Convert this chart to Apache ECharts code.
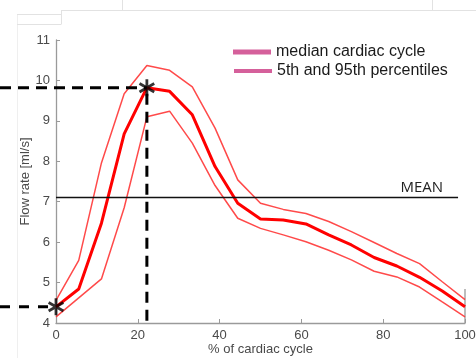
<!DOCTYPE html>
<html>
<head>
<meta charset="utf-8">
<script src="https://cdn.jsdelivr.net/npm/echarts@6/dist/echarts.min.js"></script>
<style>
html,body{margin:0;padding:0;background:#fff;}
#chart{width:476px;height:358px;}
</style>
</head>
<body>
<div id="chart"></div>
<script>
// % of cardiac cycle (sample positions)
var cyclePct = [0, 5.56, 11.11, 16.67, 22.22, 27.78, 33.33, 38.89, 44.44, 50, 55.56, 61.11, 66.67, 72.22, 77.78, 83.33, 88.89, 94.44, 100];
// flow rate [ml/s]
var medianFlow = [4.40, 4.84, 6.47, 8.68, 9.82, 9.73, 9.15, 7.87, 6.96, 6.57, 6.55, 6.45, 6.18, 5.93, 5.62, 5.41, 5.13, 4.79, 4.40];
var p95Flow = [4.56, 5.55, 7.96, 9.67, 10.37, 10.25, 9.84, 8.82, 7.54, 6.96, 6.81, 6.71, 6.51, 6.26, 5.99, 5.72, 5.47, 5.02, 4.58];
var p5Flow = [4.15, 4.62, 5.09, 6.85, 9.10, 9.24, 8.45, 7.40, 6.59, 6.34, 6.18, 6.01, 5.80, 5.56, 5.28, 5.14, 4.89, 4.52, 4.15];
var meanFlow = 7.12;
var meanLineEnd = 98.3;
var markedIdx = [0, 4];
var xTicks = [0, 20, 40, 60, 80, 100];
var yTicks = [4, 5, 6, 7, 8, 9, 10, 11];
var legendNames = ['median cardiac cycle', '5th and 95th percentiles'];

function pairs(ys) { return cyclePct.map(function (x, i) { return [x, ys[i]]; }); }

var chart = echarts.init(document.getElementById('chart'), null, {renderer: 'canvas'});
var axisGray = '#9a9a9a';
var labelGray = '#4a4a4a';
var font = 'Liberation Sans, Arial, sans-serif';
var legendPink = '#d5609b';
var asterisk = 'path://M10,0L10,20M1.34,5L18.66,15M1.34,15L18.66,5';

var option = {
  animation: false,
  backgroundColor: '#fff',
  grid: {left: 56, right: 11, top: 40, bottom: 35, containLabel: false, outerBoundsMode: 'none'},
  xAxis: {
    type: 'value', min: xTicks[0], max: xTicks[xTicks.length - 1], interval: 20,
    name: '% of cardiac cycle', nameLocation: 'middle', nameGap: 20, nameMoveOverlap: false,
    nameTextStyle: {color: labelGray, fontSize: 13, fontFamily: font},
    axisLine: {show: true, lineStyle: {color: axisGray, width: 1.3}},
    axisTick: {show: true, inside: true, length: 4, lineStyle: {color: axisGray}},
    axisLabel: {color: labelGray, fontSize: 13, fontFamily: font, margin: 6},
    splitLine: {show: false}
  },
  yAxis: {
    type: 'value', min: yTicks[0], max: yTicks[yTicks.length - 1], interval: 1,
    name: 'Flow rate [ml/s]', nameLocation: 'middle', nameGap: 24, nameMoveOverlap: false,
    nameTextStyle: {color: labelGray, fontSize: 13, fontFamily: font},
    axisLine: {show: true, lineStyle: {color: axisGray, width: 1.3}},
    axisTick: {show: true, inside: true, length: 4, lineStyle: {color: axisGray}},
    axisLabel: {color: labelGray, fontSize: 13, fontFamily: font, margin: 6},
    splitLine: {show: false}
  },
  legend: [
    {
      data: [{name: legendNames[0], icon: 'rect', itemStyle: {color: legendPink}}],
      left: 233, top: 44, itemWidth: 38, itemHeight: 5, padding: 0,
      textStyle: {color: '#1a1a1a', fontSize: 16, fontFamily: font}
    },
    {
      data: [{name: legendNames[1], icon: 'rect', itemStyle: {color: legendPink}}],
      left: 234, top: 63, itemWidth: 38, itemHeight: 4, padding: 0,
      textStyle: {color: '#1a1a1a', fontSize: 16, fontFamily: font}
    }
  ],
  series: [
    {
      name: legendNames[1], type: 'line', data: pairs(p95Flow), showSymbol: false,
      lineStyle: {color: '#ff2a2a', width: 1.5, opacity: 0.85}, itemStyle: {color: '#ff2a2a'}, z: 3
    },
    {
      name: legendNames[1], type: 'line', data: pairs(p5Flow), showSymbol: false,
      lineStyle: {color: '#ff2a2a', width: 1.5, opacity: 0.85}, itemStyle: {color: '#ff2a2a'}, z: 3
    },
    {
      name: legendNames[0], type: 'line', data: pairs(medianFlow), showSymbol: false,
      lineStyle: {color: '#ff0000', width: 3}, itemStyle: {color: '#ff0000'}, z: 4,
      markLine: {
        silent: true, symbol: 'none',
        lineStyle: {color: '#111', width: 1.4, type: 'solid'},
        label: {show: true, position: 'insideEndTop', formatter: 'MEAN', color: '#222',
                fontSize: 15, fontFamily: 'Open Sans, sans-serif', distance: [15, 2]},
        data: [[{coord: [cyclePct[0], meanFlow]}, {coord: [meanLineEnd, meanFlow]}]]
      }
    },
    {
      name: 'marked', type: 'scatter', z: 10,
      data: markedIdx.map(function (i) { return [cyclePct[i], medianFlow[i]]; }),
      symbol: asterisk, symbolSize: 17, symbolKeepAspect: true,
      itemStyle: {color: 'rgba(0,0,0,0)', borderColor: '#000', borderWidth: 2.8}
    }
  ]
};
chart.setOption(option);

// dashed guide lines from the marked points (positions via the chart's own scales)
var peak = chart.convertToPixel({gridIndex: 0}, [cyclePct[markedIdx[1]], medianFlow[markedIdx[1]]]);
var base = chart.convertToPixel({gridIndex: 0}, [cyclePct[markedIdx[1]], yTicks[0]]);
var start = chart.convertToPixel({gridIndex: 0}, [cyclePct[markedIdx[0]], medianFlow[markedIdx[0]]]);
var xEnd = chart.convertToPixel({gridIndex: 0}, [xTicks[xTicks.length - 1], yTicks[0]]);
var dash = {stroke: '#000', lineWidth: 3, lineDash: [11, 7]};
var faint = {stroke: '#e2e2e2', lineWidth: 1};
chart.setOption({
  graphic: [
    {type: 'line', shape: {x1: 0, y1: peak[1], x2: peak[0], y2: peak[1]}, style: dash, z: 20},
    {type: 'line', shape: {x1: peak[0], y1: peak[1] + 6, x2: peak[0], y2: base[1]}, style: dash, z: 20},
    {type: 'line', shape: {x1: 0, y1: start[1], x2: start[0] - 8, y2: start[1]}, style: {stroke: '#000', lineWidth: 3, lineDash: [10, 9]}, z: 20},
    {type: 'line', shape: {x1: xEnd[0], y1: xEnd[1] - 34, x2: xEnd[0], y2: xEnd[1]}, style: {stroke: axisGray, lineWidth: 1.3}},
    {type: 'line', shape: {x1: 17.5, y1: 14, x2: 17.5, y2: 358}, style: {stroke: '#efefef', lineWidth: 1}},
    {type: 'line', shape: {x1: 17, y1: 14.5, x2: 61, y2: 14.5}, style: faint},
    {type: 'line', shape: {x1: 17, y1: 24.5, x2: 61, y2: 24.5}, style: faint},
    {type: 'line', shape: {x1: 61.5, y1: 10, x2: 61.5, y2: 24.5}, style: faint},
    {type: 'line', shape: {x1: 61, y1: 10.5, x2: 476, y2: 10.5}, style: faint},
    {type: 'line', shape: {x1: 122.5, y1: 0, x2: 122.5, y2: 10}, style: faint},
    {type: 'line', shape: {x1: 432.5, y1: 0, x2: 432.5, y2: 10}, style: faint}
  ]
});
</script>
</body>
</html>
